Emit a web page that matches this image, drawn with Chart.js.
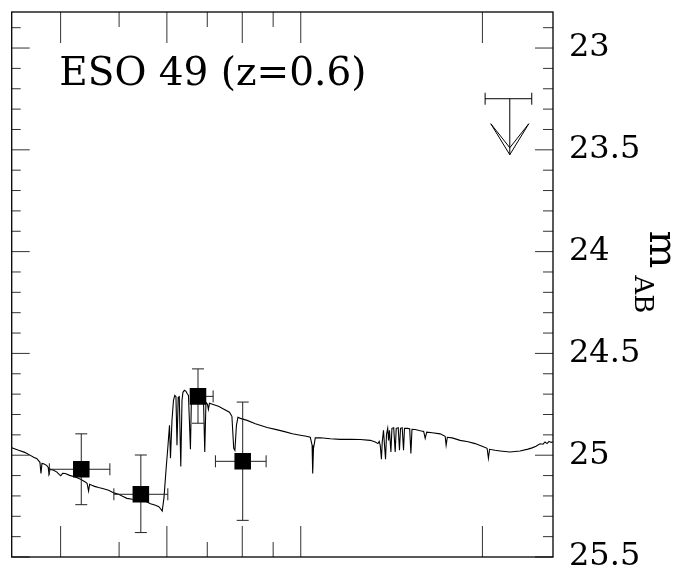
<!DOCTYPE html>
<html><head><meta charset="utf-8">
<script src="https://cdn.jsdelivr.net/npm/chart.js@4/dist/chart.umd.min.js"></script>
<style>html,body{margin:0;padding:0;background:#fff;}</style>
</head><body>
<canvas id="c" width="677" height="573" style="display:block;width:677px;height:573px"></canvas>
<script>
// ---- data (x: log10 observed wavelength / Angstrom, y: AB magnitude) ----
const specLogLam = [3.5210,3.5325,3.5425,3.5491,3.5574,3.5628,3.5678,3.5695,3.5711,3.5739,
3.5789,3.5814,3.5827,3.5847,3.5905,3.5959,3.5996,3.6021,3.6054,3.6098,
3.6170,3.6264,3.6352,3.6429,3.6459,3.6484,3.6501,3.6539,3.6583,3.6650,
3.6732,3.6815,3.6903,3.6981,3.7047,3.7118,3.7212,3.7345,3.7427,3.7510,
3.7593,3.7648,3.7676,3.7704,3.7734,3.7767,3.7800,3.7825,3.7841,3.7866,
3.7891,3.7912,3.7932,3.7949,3.7969,3.7987,3.8012,3.8032,3.8048,3.8073,
3.8098,3.8114,3.8139,3.8172,3.8189,3.8222,3.8272,3.8338,3.8387,3.8409,
3.8429,3.8454,3.8470,3.8487,3.8536,3.8636,3.8735,3.8818,3.8859,3.8889,
3.8909,3.8934,3.8959,3.9000,3.9111,3.9248,3.9442,3.9579,3.9716,3.9861,
3.9993,4.0092,4.0158,4.0188,4.0198,4.0211,4.0241,4.0324,4.0490,4.0655,
4.0821,4.0986,4.1152,4.1235,4.1279,4.1300,4.1317,4.1337,4.1350,4.1371,
4.1388,4.1405,4.1421,4.1441,4.1455,4.1470,4.1494,4.1511,4.1540,4.1565,
4.1582,4.1615,4.1636,4.1653,4.1681,4.1703,4.1719,4.1764,4.1805,4.1825,
4.1843,4.1896,4.1979,4.2037,4.2062,4.2087,4.2178,4.2310,4.2393,4.2409,
4.2429,4.2509,4.2641,4.2774,4.2889,4.3005,4.3088,4.3110,4.3129,4.3220,
4.3303,4.3468,4.3634,4.3766,4.3833,4.3899,4.3965,4.4015,4.4048,4.4081,
4.4114,4.4147,4.4180];
const specMag = [24.963,24.976,24.986,24.996,25.010,25.017,25.035,25.090,25.040,25.042,
25.050,25.059,25.090,25.069,25.074,25.083,25.094,25.101,25.089,25.090,
25.099,25.107,25.118,25.132,25.138,25.176,25.143,25.148,25.153,25.159,
25.165,25.172,25.185,25.192,25.202,25.212,25.216,25.219,25.226,25.238,
25.246,25.253,25.263,25.274,25.207,25.074,24.951,24.853,25.015,24.829,
24.730,24.706,24.713,24.951,24.716,24.713,25.055,24.730,24.691,24.681,
24.686,24.696,24.706,24.971,24.706,24.691,24.696,24.701,24.713,24.984,
24.740,24.750,24.775,24.745,24.750,24.760,24.775,24.789,24.809,24.966,
24.976,24.853,24.814,24.819,24.829,24.845,24.864,24.873,24.883,24.895,
24.902,24.907,24.912,24.951,25.090,24.966,24.915,24.914,24.919,24.922,
24.922,24.923,24.927,24.935,24.943,24.932,24.951,25.020,24.937,24.878,
24.951,25.020,24.897,24.868,24.927,24.878,24.984,24.868,24.865,24.984,
24.868,24.865,24.976,24.868,24.865,24.976,24.868,24.868,24.870,24.991,
24.873,24.874,24.880,24.883,24.917,24.887,24.890,24.895,24.907,24.951,
24.912,24.915,24.927,24.934,24.943,24.956,24.966,25.015,24.971,24.976,
24.979,24.984,24.979,24.970,24.964,24.956,24.944,24.946,24.935,24.943,
24.932,24.937,24.935];

const photLogLam   = [3.6363, 3.7350, 3.8297, 3.9038];
const photLogLamLo = [3.5834, 3.6903, 3.8189, 3.8586];
const photLogLamHi = [3.6837, 3.7797, 3.8548, 3.9426];
const photMag      = [25.069, 25.192, 24.711, 25.030];
const photMagBright= [24.895, 24.999, 24.576, 24.739];
const photMagFaint = [25.243, 25.380, 24.843, 25.320];

const limLogLam   = [4.3464];
const limLogLamLo = [4.3055];
const limLogLamHi = [4.3828];
const limMag      = [23.249];

const xLongTicksA  = [4000, 6000, 8000, 10000, 20000];
const xShortTicksA = [5000, 7000, 9000];
const yLabelTicks = [23, 23.5, 24, 24.5, 25, 25.5];
const yMinorTicks = [22.9,23.1,23.2,23.3,23.4,23.6,23.7,23.8,23.9,24.1,24.2,24.3,24.4,24.6,24.7,24.8,24.9,25.1,25.2,25.3,25.4];
const titleText = 'ESO 49 (z=0.6)';
const yTitleMain = 'm';
const yTitleSub = 'AB';

const SERIF = '"DejaVu Serif", "Liberation Serif", serif';

function line(ctx, x1, y1, x2, y2) { ctx.beginPath(); ctx.moveTo(x1, y1); ctx.lineTo(x2, y2); ctx.stroke(); }

const errorBars = {
  id: 'errorBars',
  afterDatasetDraw(chart, args) {
    if (args.index !== 1) return;
    const ctx = chart.ctx, xs = chart.scales.x, ys = chart.scales.y;
    ctx.save();
    ctx.strokeStyle = '#222'; ctx.lineWidth = 1;
    const cap = 6;
    for (let i = 0; i < photLogLam.length; i++) {
      const px = xs.getPixelForValue(photLogLam[i]);
      const py = ys.getPixelForValue(photMag[i]);
      const xl = xs.getPixelForValue(photLogLamLo[i]);
      const xh = xs.getPixelForValue(photLogLamHi[i]);
      const yt = ys.getPixelForValue(photMagBright[i]);
      const yb = ys.getPixelForValue(photMagFaint[i]);
      line(ctx, xl, py, xh, py);
      line(ctx, xl, py - cap, xl, py + cap);
      line(ctx, xh, py - cap, xh, py + cap);
      line(ctx, px, yt, px, yb);
      line(ctx, px - cap, yt, px + cap, yt);
      line(ctx, px - cap, yb, px + cap, yb);
    }
    // upper limit
    ctx.strokeStyle = '#000';
    for (let i = 0; i < limLogLam.length; i++) {
      const lx = xs.getPixelForValue(limLogLam[i]);
      const ly = ys.getPixelForValue(limMag[i]);
      const xl = xs.getPixelForValue(limLogLamLo[i]);
      const xh = xs.getPixelForValue(limLogLamHi[i]);
      line(ctx, xl, ly, xh, ly);
      line(ctx, xl, ly - cap, xl, ly + cap);
      line(ctx, xh, ly - cap, xh, ly + cap);
      const len = 56, hw = 19, hl = 31;
      line(ctx, lx, ly, lx, ly + len);
      ctx.beginPath();
      ctx.moveTo(lx - hw, ly + len - hl); ctx.lineTo(lx, ly + len); ctx.lineTo(lx + hw, ly + len - hl);
      ctx.moveTo(lx - hw, ly + len - hl); ctx.lineTo(lx, ly + len - 7); ctx.lineTo(lx + hw, ly + len - hl);
      ctx.stroke();
    }
    ctx.restore();
  }
};

const frameAndText = {
  id: 'frameAndText',
  afterDraw(chart) {
    const ctx = chart.ctx, xs = chart.scales.x, ys = chart.scales.y;
    const {left, right, top, bottom} = chart.chartArea;
    ctx.save();
    ctx.strokeStyle = '#333'; ctx.lineWidth = 1;
    xLongTicksA.forEach(v => { const p = xs.getPixelForValue(Math.log10(v)); line(ctx, p, top, p, top + 31); line(ctx, p, bottom, p, bottom - 31); });
    xShortTicksA.forEach(v => { const p = xs.getPixelForValue(Math.log10(v)); line(ctx, p, top, p, top + 15); line(ctx, p, bottom, p, bottom - 15); });
    yLabelTicks.forEach(v => { const p = ys.getPixelForValue(v); line(ctx, left, p, left + 18, p); line(ctx, right, p, right - 18, p); });
    yMinorTicks.forEach(v => { const p = ys.getPixelForValue(v); line(ctx, left, p, left + 9, p); line(ctx, right, p, right - 10, p); });
    ctx.strokeStyle = '#000'; ctx.lineWidth = 1.3;
    ctx.strokeRect(left, top, right - left, bottom - top);
    // title
    ctx.fillStyle = '#000';
    ctx.font = '39px ' + SERIF;
    ctx.textBaseline = 'alphabetic'; ctx.textAlign = 'left';
    ctx.fillText(titleText, left + 47.5, top + 73);
    // rotated y title with subscript
    ctx.translate(right + 97, top + 218.5);
    ctx.rotate(Math.PI / 2);
    ctx.font = '40px ' + SERIF;
    ctx.fillText(yTitleMain, 0, 0);
    const mw = ctx.measureText(yTitleMain).width;
    ctx.font = '26px ' + SERIF;
    ctx.fillText(yTitleSub, mw + 7, 15);
    ctx.restore();
  }
};

new Chart(document.getElementById('c').getContext('2d'), {
  type: 'scatter',
  data: {
    datasets: [
      { label: 'photometry', data: photLogLam.map((x, i) => ({x, y: photMag[i]})),
        pointStyle: 'rect', pointRadius: 11.7, pointHoverRadius: 11.7,
        backgroundColor: '#000', borderColor: '#000', borderWidth: 0, showLine: false },
      { label: 'spectrum', data: specLogLam.map((x, i) => ({x, y: specMag[i]})),
        showLine: true, borderColor: '#000', borderWidth: 1.1, pointRadius: 0,
        pointHoverRadius: 0, fill: false, tension: 0 }
    ]
  },
  options: {
    responsive: false, animation: false, devicePixelRatio: 1,
    layout: { padding: { left: 11, top: 12, right: 0, bottom: 16 } },
    plugins: { legend: { display: false }, tooltip: { enabled: false }, title: { display: false } },
    scales: {
      x: { type: 'linear', display: false, min: 3.5210, max: 4.4180 },
      y: { type: 'linear', position: 'right', reverse: true, min: 22.823, max: 25.5,
           afterBuildTicks: s => { s.ticks = yLabelTicks.map(v => ({value: v})); },
           afterFit: s => { s.width = 124; s.paddingTop = 0; s.paddingBottom = 0; },
           grid: { display: false, drawTicks: false }, border: { display: false },
           ticks: { padding: 16, color: '#000', autoSkip: false,
                    font: { family: SERIF, size: 32 }, callback: v => String(v) } }
    }
  },
  plugins: [errorBars, frameAndText]
});
</script>
</body></html>
